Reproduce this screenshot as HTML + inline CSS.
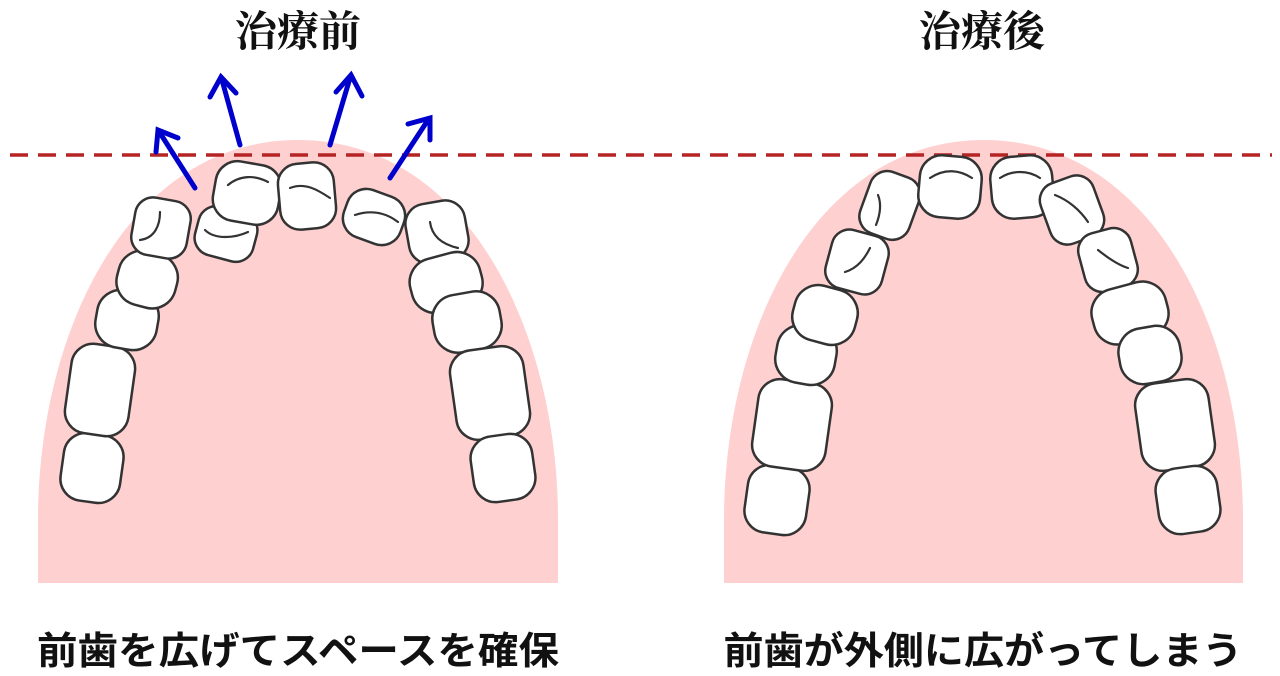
<!DOCTYPE html>
<html><head><meta charset="utf-8"><style>
html,body{margin:0;padding:0;background:#fff;}
svg{display:block}
text{font-weight:bold;fill:#111}
.t{font-family:"Liberation Serif","Noto Serif CJK SC",serif}
.c{font-family:"Liberation Sans","Noto Sans CJK JP",sans-serif}
</style></head><body>
<svg width="1280" height="676" viewBox="0 0 1280 676" xmlns="http://www.w3.org/2000/svg">
<path d="M38,583 L38,520 C38,330 130,140 298,140 C466,140 558,330 558,520 L558,583 Z" fill="#ffd0d0"/>
<path d="M724,583 L724,520 C724,330 816,140 984,140 C1152,140 1243,330 1243,520 L1243,583 Z" fill="#ffd0d0"/>
<line x1="10" y1="155" x2="1272" y2="155" stroke="#b52424" stroke-width="3.5" stroke-dasharray="18,10"/>
<g fill="#fff" stroke="#333" stroke-width="2.5">
<rect x="62" y="434" width="60" height="68" rx="22" transform="rotate(8 92 468)"/>
<rect x="68" y="345" width="64" height="90" rx="22" transform="rotate(8 100 390)"/>
<rect x="96" y="291" width="62" height="58" rx="24" transform="rotate(10 127 320)"/>
<rect x="117" y="252" width="60" height="55" rx="24" transform="rotate(15 147 280)"/>
<rect x="133" y="199" width="56" height="58" rx="18" transform="rotate(10 161 228)"/>
<rect x="196" y="209" width="60" height="50" rx="18" transform="rotate(15 226 234)"/>
<rect x="214" y="163" width="66" height="60" rx="22" transform="rotate(10 247 193)"/>
<rect x="279" y="163" width="56" height="66" rx="20" transform="rotate(-5 307 196)"/>
<rect x="344" y="192" width="60" height="50" rx="20" transform="rotate(20 374 217)"/>
<rect x="407" y="202" width="60" height="60" rx="20" transform="rotate(-10 437 232)"/>
<rect x="410" y="255" width="72" height="55" rx="24" transform="rotate(-15 446 282)"/>
<rect x="433" y="293" width="68" height="58" rx="24" transform="rotate(-10 467 322)"/>
<rect x="453" y="348" width="74" height="90" rx="22" transform="rotate(-8 490 393)"/>
<rect x="472" y="435" width="62" height="66" rx="22" transform="rotate(-8 503 468)"/>
<rect x="746" y="466" width="62" height="68" rx="22" transform="rotate(8 777 500)"/>
<rect x="755" y="381" width="74" height="88" rx="22" transform="rotate(8 792 425)"/>
<rect x="776" y="326" width="60" height="58" rx="24" transform="rotate(10 806 355)"/>
<rect x="793" y="287" width="64" height="56" rx="24" transform="rotate(15 825 315)"/>
<rect x="828" y="232" width="58" height="60" rx="18" transform="rotate(15 857 262)"/>
<rect x="864" y="173" width="52" height="65" rx="18" transform="rotate(20 890 205)"/>
<rect x="919" y="156" width="62" height="62" rx="22" transform="rotate(5 950 187)"/>
<rect x="991" y="156" width="62" height="62" rx="22" transform="rotate(-5 1022 187)"/>
<rect x="1044" y="178" width="56" height="64" rx="18" transform="rotate(-20 1072 210)"/>
<rect x="1081" y="230" width="54" height="60" rx="18" transform="rotate(-15 1108 260)"/>
<rect x="1092" y="285" width="76" height="56" rx="24" transform="rotate(-15 1130 313)"/>
<rect x="1119" y="327" width="62" height="56" rx="24" transform="rotate(-10 1150 355)"/>
<rect x="1138" y="381" width="74" height="88" rx="22" transform="rotate(-8 1175 425)"/>
<rect x="1157" y="467" width="62" height="66" rx="22" transform="rotate(-8 1188 500)"/>
</g>
<g stroke="#333" stroke-width="2.2" fill="none" stroke-linecap="round">
<path d="M140,240 C155,238 160,225 160,212"/>
<path d="M205,230 C215,240 235,238 248,232"/>
<path d="M228,185 C240,175 255,175 268,182"/>
<path d="M290,188 C305,182 318,190 330,198"/>
<path d="M355,215 C370,210 385,212 398,222"/>
<path d="M430,222 C432,238 445,245 458,248"/>
<path d="M845,272 C858,268 865,258 870,248"/>
<path d="M878,195 C882,205 880,215 876,225"/>
<path d="M930,178 C945,168 960,170 972,178"/>
<path d="M1000,178 C1012,170 1028,170 1040,178"/>
<path d="M1055,195 C1068,200 1080,210 1088,222"/>
<path d="M1098,250 C1108,258 1118,265 1128,268"/>
</g>
<g stroke="#0000cc" stroke-width="5" fill="none" stroke-linecap="round">
<line x1="195" y1="188" x2="160" y2="133"/><polyline points="156,152 158,130 178,138"/>
<line x1="240" y1="145" x2="222" y2="80"/><polyline points="210,97 221,77 236,93"/>
<line x1="330" y1="145" x2="350" y2="78"/><polyline points="336,92 351,75 362,96"/>
<line x1="390" y1="178" x2="428" y2="120"/><polyline points="408,124 430,118 430,140"/>
</g>
<text class="t" x="298" y="46" font-size="42" text-anchor="middle">治療前</text>
<text class="t" x="982" y="46" font-size="42" text-anchor="middle">治療後</text>
<text class="c" x="298" y="664" font-size="38" text-anchor="middle" textLength="522" lengthAdjust="spacingAndGlyphs">前歯を広げてスペースを確保</text>
<text class="c" x="983" y="664" font-size="38" text-anchor="middle" textLength="519" lengthAdjust="spacingAndGlyphs">前歯が外側に広がってしまう</text>
</svg>
</body></html>
